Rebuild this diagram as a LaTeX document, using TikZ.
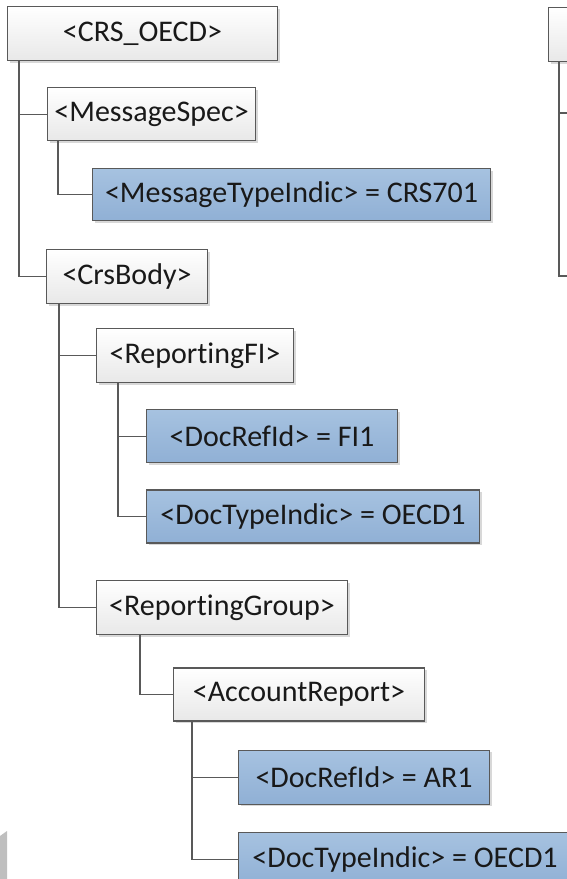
\documentclass[tikz,border=0pt]{standalone}
\usepackage{fontspec}
\setmainfont{Carlito}[Ligatures=NoCommon]
\usepackage{xcolor}
\usetikzlibrary{positioning,shadows}

\definecolor{leaftop}{RGB}{166,194,224}
\definecolor{leafbot}{RGB}{144,176,213}

\begin{document}
\begin{tikzpicture}[x=1pt, y=-1pt,
    elem/.style={draw=black!65, line width=1.1pt, inner sep=0pt, text=black!90,
        font=\fontsize{30}{36}\selectfont,
        drop shadow={shadow xshift=2pt, shadow yshift=-2pt, fill=black!30, opacity=0.5}},
    tagbox/.style={elem, top color=white, bottom color=black!9},
    valbox/.style={elem, top color=leaftop, bottom color=leafbot},
    link/.style={draw=black!65, line width=1.1pt}]

            % Fix the page
            \clip (0,0) rectangle (567,879);

            % Define the first tree
            \node[tagbox, minimum width=270pt, minimum height=54pt, anchor=north west] (crs) at (7,6) {<CRS\_OECD>};
            \node[tagbox, minimum width=208pt, minimum height=53pt, below right=26pt and 40pt of crs.south west] (msgspec) {<MessageSpec>};
            \node[valbox, minimum width=398pt, minimum height=52pt, below right=27pt and 45pt of msgspec.south west] (msgtype) {<MessageTypeIndic> = CRS701};
            \node[tagbox, minimum width=161pt, minimum height=54pt, below right=188pt and 39pt of crs.south west] (crsbody) {<CrsBody>};
            \node[tagbox, minimum width=197pt, minimum height=54pt, below right=24pt and 50pt of crsbody.south west] (repfi) {<ReportingFI>};
            \node[valbox, minimum width=251pt, minimum height=53pt, below right=26pt and 50pt of repfi.south west] (firef) {<DocRefId> = FI1};
            \node[valbox, minimum width=333pt, minimum height=53pt, below right=26pt and 0pt of firef.south west] (fitype) {<DocTypeIndic> = OECD1};
            \node[tagbox, minimum width=251pt, minimum height=54pt, below right=197pt and 0pt of repfi.south west] (repgrp) {<ReportingGroup>};
            \node[tagbox, minimum width=251pt, minimum height=53pt, below right=32pt and 77pt of repgrp.south west] (accrep) {<AccountReport>};
            \node[valbox, minimum width=251pt, minimum height=54pt, below right=28pt and 65pt of accrep.south west] (arref) {<DocRefId> = AR1};
            \node[valbox, minimum width=333pt, minimum height=54pt, below right=27pt and 0pt of arref.south west] (artype) {<DocTypeIndic> = OECD1};

            % Draw the links of the first tree
            \foreach \a/\b/\d in {crs/msgspec/12, crs/crsbody/12, msgspec/msgtype/11,
                    crsbody/repfi/13, crsbody/repgrp/13, repfi/firef/22, repfi/fitype/22,
                    repgrp/accrep/44, accrep/arref/19, accrep/artype/19} {
                    \draw[link] ([xshift=\d pt]\a.south west) |- (\b.west);
                }

            % Define the second tree (cut off)
            \node[tagbox, minimum width=120pt, minimum height=54pt, anchor=north west] (other) at (548,7) {};
            \coordinate (o1) at (600,113);
            \coordinate (o2) at (600,276);
            \draw[link] ([xshift=11pt]other.south west) |- (o1);
            \draw[link] ([xshift=11pt]other.south west) |- (o2);

            % Grey edge at the bottom left
            \fill[black!25] (0,836) -- (7,831) -- (7,879) -- (0,879) -- cycle;

        \end{tikzpicture}
\end{document}
